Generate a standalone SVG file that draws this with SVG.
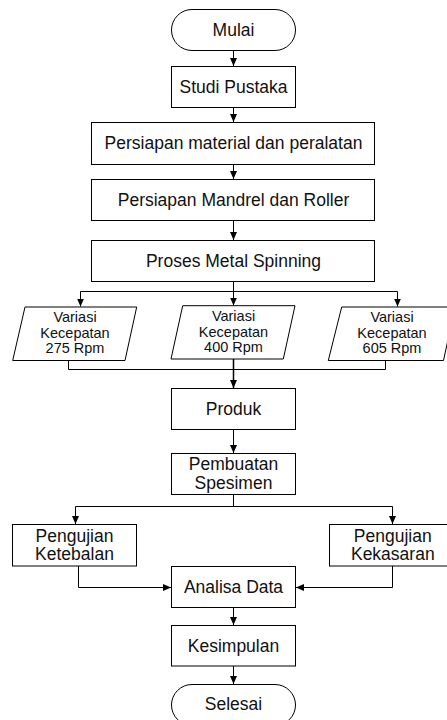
<svg xmlns="http://www.w3.org/2000/svg" width="447" height="720" viewBox="0 0 447 720">
<defs>
<marker id="arr" markerUnits="userSpaceOnUse" markerWidth="8" markerHeight="7" refX="8" refY="3.5" orient="auto">
<path d="M0,0 L8,3.5 L0,7 z" fill="#000"/>
</marker>
<style>
.b{fill:#fff;stroke:#000;stroke-width:1}
.t{font-family:"Liberation Sans",Arial,sans-serif;font-size:17.5px;fill:#111;text-anchor:middle}
.s{font-family:"Liberation Sans",Arial,sans-serif;font-size:14.5px;fill:#111;text-anchor:middle}
.c{fill:none;stroke:#000;stroke-width:1}
.a{fill:none;stroke:#000;stroke-width:1;marker-end:url(#arr)}
</style>
</defs>
<rect width="447" height="720" fill="#fff"/>
<g id="connectors">
<line class="a" x1="233.5" y1="50.5" x2="233.5" y2="66"/>
<line class="a" x1="233.5" y1="107.5" x2="233.5" y2="122"/>
<line class="a" x1="233.5" y1="164.5" x2="233.5" y2="179"/>
<line class="a" x1="233.5" y1="220.5" x2="233.5" y2="240"/>
<polyline class="c" points="233.5,281.5 233.5,291.5"/>
<polyline class="c" points="80.5,291.5 397.5,291.5"/>
<line class="a" x1="80.5" y1="291.5" x2="80.5" y2="306.5"/>
<line class="a" x1="233.5" y1="291.5" x2="233.5" y2="305.5"/>
<line class="a" x1="397.5" y1="291.5" x2="397.5" y2="306.5"/>
<polyline class="c" points="68.5,360.5 68.5,369.5 385.5,369.5 385.5,360.5"/>
<line class="a" x1="233.5" y1="359" x2="233.5" y2="388" style="stroke-width:1.5"/>
<line class="a" x1="233.5" y1="429.5" x2="233.5" y2="453"/>
<polyline class="c" points="233.5,494.5 233.5,506.5"/>
<polyline class="c" points="75.5,506.5 392.5,506.5"/>
<line class="a" x1="75.5" y1="506.5" x2="75.5" y2="524"/>
<line class="a" x1="392.5" y1="506.5" x2="392.5" y2="524"/>
<polyline class="a" points="78.5,566 78.5,587.5 171,587.5"/>
<polyline class="a" points="392.5,566 392.5,587.5 296,587.5"/>
<line class="a" x1="233.5" y1="607.5" x2="233.5" y2="625"/>
<line class="a" x1="233.5" y1="666" x2="233.5" y2="684"/>
</g>
<g id="mulai">
<rect class="b" x="171.5" y="9.5" width="124" height="41" rx="20.5"/>
<text class="t" x="233.5" y="36">Mulai</text>
</g>
<g id="studi">
<rect class="b" x="171.5" y="66.5" width="124" height="41"/>
<text class="t" x="233.5" y="92.5">Studi Pustaka</text>
</g>
<g id="persiapan-material">
<rect class="b" x="91.5" y="122.5" width="283" height="42"/>
<text class="t" x="233.5" y="149">Persiapan material dan peralatan</text>
</g>
<g id="persiapan-mandrel">
<rect class="b" x="91.5" y="179.5" width="283" height="41"/>
<text class="t" x="233.5" y="205.5">Persiapan Mandrel dan Roller</text>
</g>
<g id="proses">
<rect class="b" x="91.5" y="240.5" width="283" height="41"/>
<text class="t" x="233.5" y="267">Proses Metal Spinning</text>
</g>
<g id="variasi-275">
<polygon class="b" points="25,307 136.7,307 125,360.5 12.7,360.5"/>
<text class="s" x="75" y="322.3">Variasi</text>
<text class="s" x="75" y="337.8">Kecepatan</text>
<text class="s" x="75" y="353.3">275 Rpm</text>
</g>
<g id="variasi-400">
<polygon class="b" points="182.7,305.7 295,305.7 283.3,359 171,359"/>
<text class="s" x="233.5" y="321.2">Variasi</text>
<text class="s" x="233.5" y="336.7">Kecepatan</text>
<text class="s" x="233.5" y="352.2">400 Rpm</text>
</g>
<g id="variasi-605">
<polygon class="b" points="341.7,307 455,307 443.5,360.5 328.3,360.5"/>
<text class="s" x="392" y="322.3">Variasi</text>
<text class="s" x="392" y="337.8">Kecepatan</text>
<text class="s" x="392" y="353.3">605 Rpm</text>
</g>
<g id="produk">
<rect class="b" x="171.5" y="388.5" width="124" height="41"/>
<text class="t" x="233.5" y="415">Produk</text>
</g>
<g id="pembuatan">
<rect class="b" x="171.5" y="453.5" width="124" height="41"/>
<text class="t" x="233.5" y="470">Pembuatan</text>
<text class="t" x="233.5" y="488.5">Spesimen</text>
</g>
<g id="ketebalan">
<rect class="b" x="12.5" y="524.5" width="124" height="41.5"/>
<text class="t" x="74.5" y="541.7">Pengujian</text>
<text class="t" x="74.5" y="560">Ketebalan</text>
</g>
<g id="kekasaran">
<rect class="b" x="329.5" y="524.5" width="126" height="41.5"/>
<text class="t" x="392.8" y="541.7">Pengujian</text>
<text class="t" x="392.8" y="560">Kekasaran</text>
</g>
<g id="analisa">
<rect class="b" x="171.5" y="566.5" width="124" height="41"/>
<text class="t" x="233.5" y="593">Analisa Data</text>
</g>
<g id="kesimpulan">
<rect class="b" x="171.5" y="625.5" width="124" height="40.5"/>
<text class="t" x="233.5" y="651.5">Kesimpulan</text>
</g>
<g id="selesai">
<rect class="b" x="171.5" y="684.5" width="124" height="41" rx="20.5"/>
<text class="t" x="233.5" y="710">Selesai</text>
</g>
</svg>
